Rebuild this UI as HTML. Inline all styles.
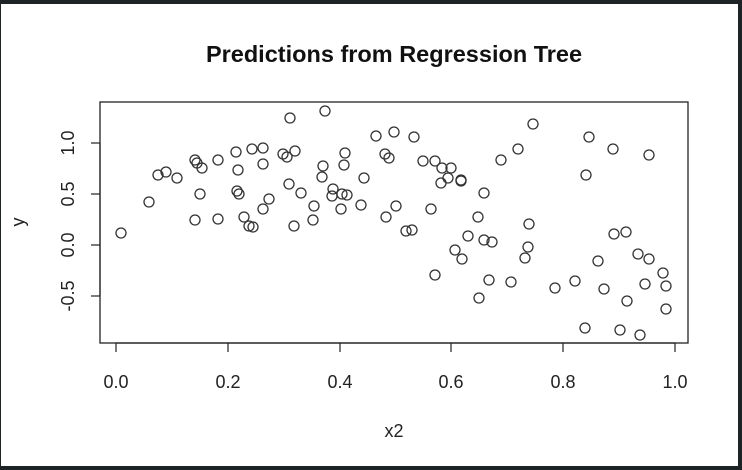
<!DOCTYPE html>
<html><head><style>html,body{margin:0;padding:0;background:#fff;}svg{display:block}</style></head><body>
<svg width="742" height="470" xmlns="http://www.w3.org/2000/svg" font-family="Liberation Sans, sans-serif">
<rect x="0" y="0" width="742" height="470" fill="#1e2326"/>
<rect x="1" y="4" width="737" height="462" fill="#fff"/>
<text x="394" y="62" text-anchor="middle" font-size="23.5" font-weight="bold" fill="#111">Predictions from Regression Tree</text>
<rect x="100" y="102" width="588" height="241" fill="none" stroke="#222" stroke-width="1.3"/>
<g stroke="#222" stroke-width="1.2">
<line x1="116" y1="343" x2="675" y2="343"/>
<line x1="116" y1="343" x2="116" y2="352"/><line x1="228" y1="343" x2="228" y2="352"/><line x1="340" y1="343" x2="340" y2="352"/><line x1="451" y1="343" x2="451" y2="352"/><line x1="563" y1="343" x2="563" y2="352"/><line x1="675" y1="343" x2="675" y2="352"/>
<line x1="100" y1="143" x2="100" y2="296"/>
<line x1="91" y1="143" x2="100" y2="143"/><line x1="91" y1="194" x2="100" y2="194"/><line x1="91" y1="245" x2="100" y2="245"/><line x1="91" y1="296" x2="100" y2="296"/>
</g>
<g font-size="18" fill="#222" text-anchor="middle">
<text x="116" y="388">0.0</text><text x="228" y="388">0.2</text><text x="340" y="388">0.4</text><text x="451" y="388">0.6</text><text x="563" y="388">0.8</text><text x="675" y="388">1.0</text>
<text transform="translate(74,296) rotate(-90)">-0.5</text>
<text transform="translate(74,245) rotate(-90)">0.0</text>
<text transform="translate(74,194) rotate(-90)">0.5</text>
<text transform="translate(74,143) rotate(-90)">1.0</text>
<text x="394" y="437">x2</text>
<text transform="translate(24,222) rotate(-90)">y</text>
</g>
<g fill="none" stroke="#333" stroke-width="1.3">
<circle cx="121" cy="233" r="5"/><circle cx="149" cy="202" r="5"/><circle cx="158" cy="175" r="5"/><circle cx="166" cy="172" r="5"/><circle cx="177" cy="178" r="5"/><circle cx="195" cy="160" r="5"/><circle cx="197" cy="163" r="5"/><circle cx="202" cy="168" r="5"/><circle cx="200" cy="194" r="5"/><circle cx="195" cy="220" r="5"/><circle cx="218" cy="160" r="5"/><circle cx="218" cy="219" r="5"/><circle cx="236" cy="152" r="5"/><circle cx="238" cy="170" r="5"/><circle cx="237" cy="191" r="5"/><circle cx="239" cy="194" r="5"/><circle cx="244" cy="217" r="5"/><circle cx="249" cy="226" r="5"/><circle cx="253" cy="227" r="5"/><circle cx="252" cy="149" r="5"/><circle cx="263" cy="148" r="5"/><circle cx="263" cy="164" r="5"/><circle cx="269" cy="199" r="5"/><circle cx="263" cy="209" r="5"/><circle cx="290" cy="118" r="5"/><circle cx="283" cy="154" r="5"/><circle cx="287" cy="157" r="5"/><circle cx="295" cy="151" r="5"/><circle cx="289" cy="184" r="5"/><circle cx="294" cy="226" r="5"/><circle cx="301" cy="193" r="5"/>
<circle cx="325" cy="111" r="5"/><circle cx="323" cy="166" r="5"/><circle cx="322" cy="177" r="5"/><circle cx="345" cy="153" r="5"/><circle cx="344" cy="165" r="5"/><circle cx="333" cy="189" r="5"/><circle cx="332" cy="196" r="5"/><circle cx="342" cy="194" r="5"/><circle cx="347" cy="195" r="5"/><circle cx="314" cy="206" r="5"/><circle cx="313" cy="220" r="5"/><circle cx="341" cy="209" r="5"/><circle cx="361" cy="205" r="5"/><circle cx="364" cy="178" r="5"/><circle cx="376" cy="136" r="5"/><circle cx="394" cy="132" r="5"/><circle cx="414" cy="137" r="5"/><circle cx="385" cy="154" r="5"/><circle cx="389" cy="158" r="5"/><circle cx="396" cy="206" r="5"/><circle cx="386" cy="217" r="5"/><circle cx="406" cy="231" r="5"/><circle cx="412" cy="230" r="5"/><circle cx="423" cy="161" r="5"/><circle cx="435" cy="161" r="5"/><circle cx="442" cy="168" r="5"/><circle cx="451" cy="168" r="5"/><circle cx="448" cy="178" r="5"/><circle cx="441" cy="183" r="5"/><circle cx="461" cy="180" r="5"/><circle cx="461" cy="181" r="5"/><circle cx="431" cy="209" r="5"/><circle cx="484" cy="193" r="5"/><circle cx="478" cy="217" r="5"/><circle cx="468" cy="236" r="5"/><circle cx="484" cy="240" r="5"/><circle cx="492" cy="242" r="5"/><circle cx="455" cy="250" r="5"/><circle cx="462" cy="259" r="5"/><circle cx="435" cy="275" r="5"/><circle cx="489" cy="280" r="5"/><circle cx="479" cy="298" r="5"/><circle cx="501" cy="160" r="5"/>
<circle cx="518" cy="149" r="5"/><circle cx="533" cy="124" r="5"/><circle cx="529" cy="224" r="5"/><circle cx="528" cy="247" r="5"/><circle cx="525" cy="258" r="5"/><circle cx="511" cy="282" r="5"/><circle cx="555" cy="288" r="5"/><circle cx="575" cy="281" r="5"/><circle cx="598" cy="261" r="5"/><circle cx="604" cy="289" r="5"/><circle cx="627" cy="301" r="5"/><circle cx="585" cy="328" r="5"/><circle cx="620" cy="330" r="5"/><circle cx="640" cy="335" r="5"/><circle cx="589" cy="137" r="5"/><circle cx="586" cy="175" r="5"/><circle cx="613" cy="149" r="5"/><circle cx="649" cy="155" r="5"/><circle cx="614" cy="234" r="5"/><circle cx="626" cy="232" r="5"/><circle cx="638" cy="254" r="5"/><circle cx="649" cy="259" r="5"/><circle cx="663" cy="273" r="5"/><circle cx="645" cy="284" r="5"/><circle cx="666" cy="286" r="5"/><circle cx="666" cy="309" r="5"/>
</g>
</svg>
</body></html>
